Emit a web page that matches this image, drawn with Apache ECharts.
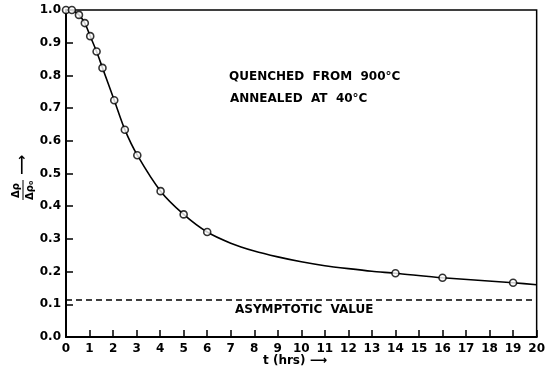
<!DOCTYPE html>
<html><head><meta charset="utf-8">
<script src="https://cdn.jsdelivr.net/npm/echarts@6/dist/echarts.min.js"></script>
<style>html,body{margin:0;padding:0;background:#fff}#c{width:548px;height:370px}</style>
</head><body><div id="c"></div>
<script>
// Measured points (open circles)
const markerT = [0, 0.25, 0.55, 0.8, 1.03, 1.3, 1.55, 2.05, 2.5, 3.03, 4.02, 5.0, 6.0, 14.0, 16.0, 19.0];
const markerV = [1.0, 1.0, 0.985, 0.96, 0.92, 0.873, 0.823, 0.724, 0.634, 0.556, 0.446, 0.375, 0.321, 0.195, 0.181, 0.166];
// Fitted curve
const curveT = [0, 0.3, 0.55, 0.8, 1.03, 1.3, 1.55, 2.05, 2.5, 3.03, 4.02, 5.0, 6.0, 7, 8, 9, 10, 11, 12, 13, 14, 16, 19, 20];
const curveV = [1.0, 0.998, 0.985, 0.96, 0.92, 0.873, 0.823, 0.724, 0.634, 0.556, 0.446, 0.375, 0.321, 0.287, 0.263, 0.245, 0.23, 0.218, 0.209, 0.201, 0.195, 0.181, 0.166, 0.16];
// Asymptotic value
const asymT = [0, 20];
const asymV = [0.113, 0.113];
const xTicks = [0,1,2,3,4,5,6,7,8,9,10,11,12,13,14,15,16,17,18,19,20];
const yTicks = ['0.0','0.1','0.2','0.3','0.4','0.5','0.6','0.7','0.8','0.9','1.0'];

const FONT = 'DejaVu Sans';
const chart = echarts.init(document.getElementById('c'), null, {renderer: 'canvas'});
const zip = (a, b) => a.map((v, i) => [v, b[i]]);
chart.setOption({
  animation: false,
  backgroundColor: '#fff',
  grid: {left: 66, right: 9, top: 10, bottom: 33, show: true, borderColor: '#000', borderWidth: 1.5, backgroundColor: 'transparent'},
  xAxis: {
    type: 'value', min: 0, max: 20, interval: 1,
    axisLine: {show: true, lineStyle: {color: '#000', width: 2}},
    axisTick: {show: true, inside: true, length: 7, lineStyle: {color: '#000', width: 1.5}},
    axisLabel: {color: '#000', fontFamily: FONT, fontWeight: 'bold', fontSize: 12, margin: 6,
      formatter: v => String(xTicks[Math.round(v)])},
    splitLine: {show: false}
  },
  yAxis: {
    type: 'value', min: 0, max: 1, interval: 0.1,
    axisLine: {show: true, lineStyle: {color: '#000', width: 2}},
    axisTick: {show: true, inside: true, length: 7, lineStyle: {color: '#000', width: 1.5}},
    axisLabel: {color: '#000', fontFamily: FONT, fontWeight: 'bold', fontSize: 12, margin: 5,
      formatter: v => yTicks[Math.round(v * 10)]},
    splitLine: {show: false}
  },
  series: [
    {type: 'line', data: zip(curveT, curveV), smooth: 0.25, showSymbol: false,
     lineStyle: {color: '#000', width: 1.6}, z: 2},
    {type: 'line', data: zip(asymT, asymV), showSymbol: false,
     lineStyle: {color: '#000', width: 1.4, type: [6, 4]}, z: 2},
    {type: 'scatter', data: zip(markerT, markerV), symbol: 'circle', symbolSize: 7,
     itemStyle: {color: '#fff', borderColor: '#000', borderWidth: 1.6}, z: 3}
  ],
  graphic: [
    {type: 'text', left: 229, top: 71, style: {text: 'QUENCHED  FROM  900°C', font: 'bold 12px "DejaVu Sans"', fill: '#000'}},
    {type: 'text', left: 230, top: 93, style: {text: 'ANNEALED  AT  40°C', font: 'bold 12px "DejaVu Sans"', fill: '#000'}},
    {type: 'text', left: 235, top: 304, style: {text: 'ASYMPTOTIC  VALUE', font: 'bold 12px "DejaVu Sans"', fill: '#000'}},
    {type: 'text', left: 263, top: 355, style: {text: 't (hrs) ⟶', font: 'bold 12px "DejaVu Sans"', fill: '#000'}},
    {type: 'group', x: 24, y: 190, rotation: Math.PI / 2, children: [
      {type: 'text', x: -8, y: -13, style: {text: 'Δρ', font: 'bold 10px "DejaVu Sans"', fill: '#000'}},
      {type: 'line', shape: {x1: -10, y1: -1, x2: 10, y2: -1}, style: {stroke: '#000', lineWidth: 1}},
      {type: 'text', x: -10, y: 1, style: {text: 'Δρ₀', font: 'bold 10px "DejaVu Sans"', fill: '#000'}},
      {type: 'text', x: 15, y: -9, style: {text: '⟶', font: 'bold 14px "DejaVu Sans"', fill: '#000'}}
    ]}
  ]
});
</script></body></html>
